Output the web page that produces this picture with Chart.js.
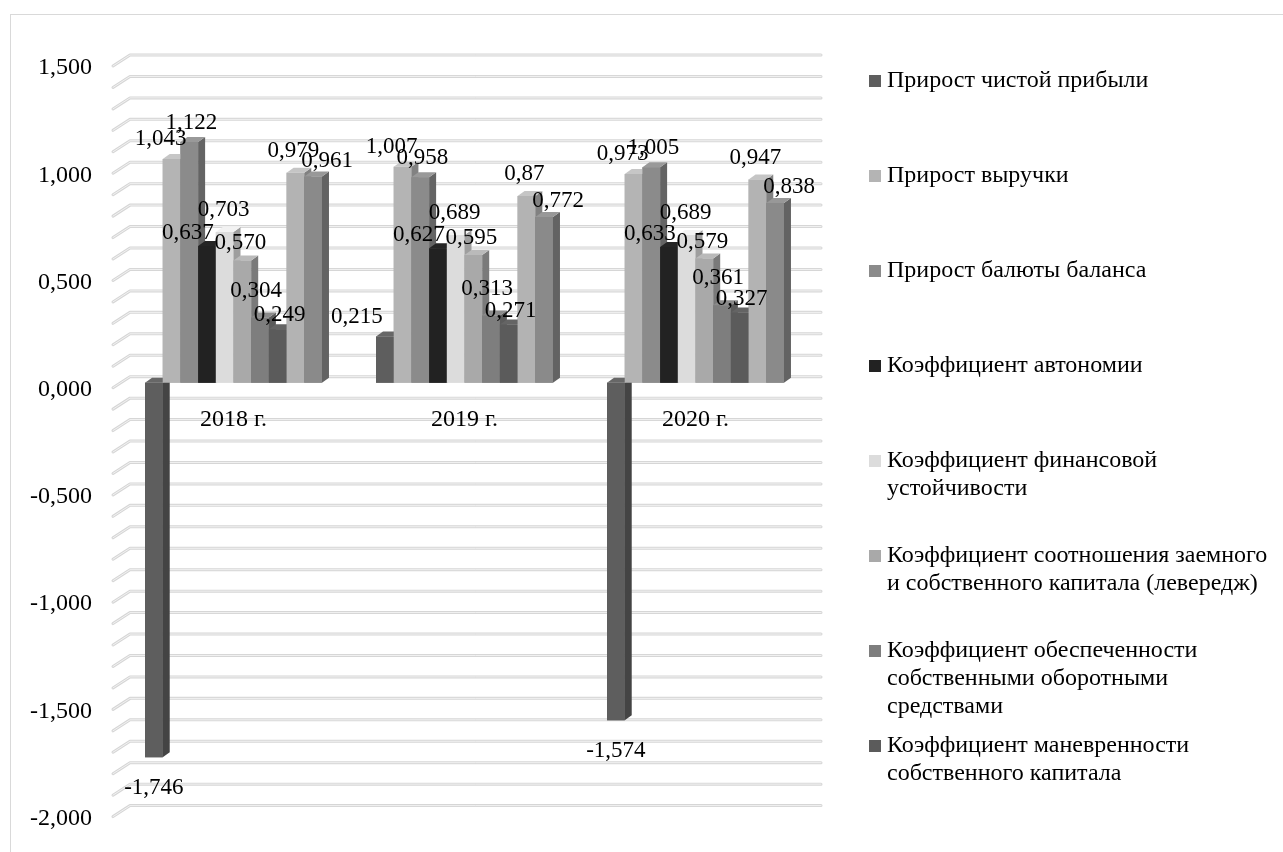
<!DOCTYPE html>
<html lang="ru">
<head>
<meta charset="utf-8">
<title>Показатели 2018–2020</title>
<script src="https://cdn.jsdelivr.net/npm/chart.js@4.4.1/dist/chart.umd.min.js"></script>
<style>
  html, body { margin: 0; padding: 0; background: #fff; }
  #wrap { position: relative; width: 1283px; height: 852px; }
</style>
</head>
<body>
<div id="wrap"><canvas id="chart"></canvas></div>
<script>
// данные
const years = ['2018 г.', '2019 г.', '2020 г.'];

const netProfitGrowth = [-1.746, 0.215, -1.574];
const revenueGrowth = [1.043, 1.007, 0.973];
const balanceGrowth = [1.122, 0.958, 1.005];
const autonomy = [0.637, 0.627, 0.633];
const finStability = [0.703, 0.689, 0.689];
const leverage = [0.570, 0.595, 0.579];
const ownWorkingCapital = [0.304, 0.313, 0.361];
const maneuverability = [0.249, 0.271, 0.327];
const extraSeriesA = [0.979, 0.870, 0.947];
const extraSeriesB = [0.961, 0.772, 0.838];

const seriesValues = [
    netProfitGrowth, revenueGrowth, balanceGrowth, autonomy, finStability,
    leverage, ownWorkingCapital, maneuverability, extraSeriesA, extraSeriesB
];

// подписи легенды (в легенде только первые 8 рядов)
const legendLabels = [
    ['Прирост чистой прибыли'],
    ['Прирост выручки'],
    ['Прирост балюты баланса'],
    ['Коэффициент автономии'],
    ['Коэффициент финансовой', 'устойчивости'],
    ['Коэффициент соотношения заемного', 'и собственного капитала (левередж)'],
    ['Коэффициент обеспеченности', 'собственными оборотными', 'средствами'],
    ['Коэффициент маневренности', 'собственного капитала']
];

const barColors = ['#5e5e5e', '#b4b4b4', '#8b8b8b', '#222222', '#dcdcdc',
                   '#a9a9a9', '#7e7e7e', '#5b5b5b', '#b3b3b3', '#8a8a8a'];

// ось Y
const axisMin = -2;
const axisMax = 1.5;
const gridStep = 0.1;
const labelStep = 0.5;

// "0,87" в исходнике показано с двумя знаками
const shortLabels = [[8, 1]];

// сдвиг подписей значений по рядам (как в исходной диаграмме)
const labelDx = [-28, -11, 2, -19, -1, -2, -4, 2, -2, 14];
const labelAbove = [20, 20, 19, 13, 22, 17, 27, 14, 22, 16];
const labelBelow = 31;

const FONT = "'Liberation Serif', 'Times New Roman', serif";
Chart.defaults.font.family = FONT;
Chart.defaults.color = '#000';

function fmt(v, d) {
    const r = Math.abs(v) < 1e-9 ? 0 : v;
    return r.toFixed(d).replace('.', ',');
}

function shade(hex, k) {
    const n = parseInt(hex.slice(1), 16);
    const f = c => Math.max(0, Math.min(255, Math.round(c * k)));
    const r = f(n >> 16), g = f((n >> 8) & 255), b = f(n & 255);
    return `rgb(${r},${g},${b})`;
}

const DX = 7, DY = 5;

// рамка и сетка "3D": боковая стенка + задняя стенка
const wallPlugin = {
    id: 'wall',
    beforeDraw(chart) {
        const ctx = chart.ctx;
        const y = chart.scales.y;
        const area = chart.chartArea;
        ctx.save();
        ctx.fillStyle = '#fff';
        ctx.fillRect(0, 0, chart.width, chart.height);
        ctx.strokeStyle = '#d9d9d9';
        ctx.lineWidth = 1;
        ctx.strokeRect(10.5, 14.5, chart.width + 20, chart.height + 20);

        y.ticks.forEach(t => {
            const p = y.getPixelForValue(t.value);
            const path = () => {
                ctx.beginPath();
                ctx.moveTo(area.left - 5, p + 5);
                ctx.lineTo(area.left + 12, p - 6);
                ctx.lineTo(area.right + 10, p - 6);
            };
            ctx.lineCap = 'round';
            ctx.lineJoin = 'round';
            path();
            ctx.strokeStyle = '#d6d6d6';
            ctx.lineWidth = 3;
            ctx.stroke();
            path();
            ctx.strokeStyle = '#f2f2f2';
            ctx.lineWidth = 1;
            ctx.stroke();
        });
        ctx.restore();
    }
};

// боковые и верхние грани столбцов, перерисовка слева направо
const boxPlugin = {
    id: 'box3d',
    afterDatasetsDraw(chart) {
        const ctx = chart.ctx;
        ctx.save();
        chart.data.datasets.forEach((ds, i) => {
            const meta = chart.getDatasetMeta(i);
            const color = barColors[i];
            meta.data.forEach(el => {
                el.draw(ctx);
                const x0 = el.x - el.width / 2, x1 = el.x + el.width / 2;
                const top = Math.min(el.y, el.base), bot = Math.max(el.y, el.base);
                ctx.fillStyle = shade(color, 0.72);
                ctx.beginPath();
                ctx.moveTo(x1, top);
                ctx.lineTo(x1 + DX, top - DY);
                ctx.lineTo(x1 + DX, bot - DY);
                ctx.lineTo(x1, bot);
                ctx.closePath();
                ctx.fill();
                ctx.fillStyle = shade(color, 1.1);
                ctx.beginPath();
                ctx.moveTo(x0, top);
                ctx.lineTo(x0 + DX, top - DY);
                ctx.lineTo(x1 + DX, top - DY);
                ctx.lineTo(x1, top);
                ctx.closePath();
                ctx.fill();
            });
        });

        // подписи значений
        ctx.font = `23px ${FONT}`;
        ctx.fillStyle = '#000';
        ctx.textAlign = 'center';
        ctx.textBaseline = 'middle';
        chart.data.datasets.forEach((ds, i) => {
            const meta = chart.getDatasetMeta(i);
            meta.data.forEach((el, j) => {
                const v = seriesValues[i][j];
                const d = shortLabels.some(s => s[0] === i && s[1] === j) ? 2 : 3;
                if (v >= 0) {
                    ctx.fillText(fmt(v, d), el.x + labelDx[i], el.y - labelAbove[i]);
                } else {
                    ctx.fillText(fmt(v, d), el.x, el.y + labelBelow);
                }
            });
        });
        ctx.restore();
    }
};

// легенда справа
const legendPlugin = {
    id: 'sideLegend',
    afterDraw(chart) {
        const ctx = chart.ctx;
        ctx.save();
        ctx.font = `24px ${FONT}`;
        ctx.textBaseline = 'middle';
        ctx.textAlign = 'left';
        legendLabels.forEach((lines, i) => {
            const y0 = 81 + 95 * i;
            ctx.fillStyle = barColors[i];
            ctx.fillRect(869, y0 - 6, 12, 12);
            ctx.fillStyle = '#000';
            lines.forEach((line, k) => ctx.fillText(line, 887, y0 + 28 * k));
        });
        ctx.restore();
    }
};

const datasets = seriesValues.map((vals, i) => ({
    label: legendLabels[i] ? legendLabels[i].join(' ') : '',
    data: vals,
    backgroundColor: barColors[i],
    borderWidth: 0,
    categoryPercentage: 0.766,
    barPercentage: 1.0
}));

new Chart(document.getElementById('chart'), {
    type: 'bar',
    data: { labels: years, datasets: datasets },
    options: {
        responsive: true,
        maintainAspectRatio: false,
        animation: false,
        layout: { padding: { left: 0, right: 472, top: 61, bottom: 32 } },
        plugins: {
            legend: { display: false },
            tooltip: { enabled: false }
        },
        scales: {
            x: {
                position: { y: 0 },
                grid: { display: false, drawTicks: false },
                border: { display: false },
                ticks: { padding: 23, font: { size: 24 }, color: '#000' }
            },
            y: {
                min: axisMin,
                max: axisMax,
                grid: { display: false, drawTicks: false },
                border: { display: false },
                afterFit: s => { s.width = 118; },
                ticks: {
                    stepSize: gridStep,
                    autoSkip: false,
                    padding: 26,
                    labelOffset: 7,
                    font: { size: 24 },
                    color: '#000',
                    callback: v => {
                        const k = Math.round(v / gridStep);
                        return k % Math.round(labelStep / gridStep) === 0 ? fmt(v, 3) : '';
                    }
                }
            }
        }
    },
    plugins: [wallPlugin, boxPlugin, legendPlugin]
});
</script>
</body>
</html>
